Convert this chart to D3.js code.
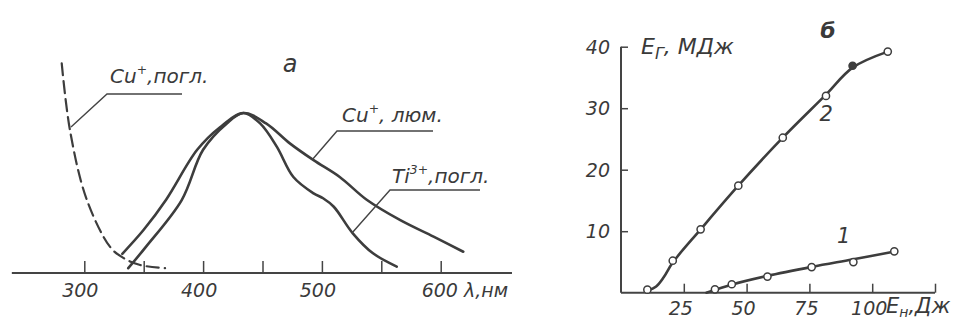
<!DOCTYPE html>
<html lang="en">
<head>
  <meta charset="UTF-8">
  <title>Spectra and energy</title>
  <style>
    body { margin: 0; padding: 0; background: #fff; }
    svg { display: block; }
    text {
      font-family: 'DejaVu Sans', sans-serif;
      font-style: italic;
      fill: #3a3a3a;
    }
    .curve { fill: none; stroke: #3d3d3d; stroke-width: 2.6px; stroke-linecap: round; }
    .dash { stroke-dasharray: 12 6; stroke-width: 2.2px; }
    .axis-line { stroke: #444; stroke-width: 2px; fill: none; }
    .leader { stroke: #444; stroke-width: 1.4px; fill: none; }
    .tick line { stroke: #444; stroke-width: 1.5px; }
  </style>
</head>
<body>
  <svg width="964" height="323"></svg>

  <script src="https://d3js.org/d3.v7.min.js"></script>
  <script>
    // panel a: relative intensity vs wavelength (nm)
    const cuAbsLambda = [281, 288, 302, 322, 333, 347, 368];
    const cuAbsValue  = [1.31, 0.89, 0.46, 0.16, 0.094, 0.05, 0.03];

    const cuLumLambda = [332, 350, 369, 395, 414, 434, 453, 473, 493, 515, 538, 566, 594, 619];
    const cuLumValue  = [0.12, 0.27, 0.46, 0.77, 0.91, 1.0, 0.935, 0.81, 0.705, 0.60, 0.456, 0.33, 0.227, 0.133];

    const tiAbsLambda = [337, 352, 382, 400, 420, 434, 448, 462, 476, 493, 501, 510, 526, 543, 563];
    const tiAbsValue  = [0.03, 0.165, 0.456, 0.77, 0.935, 1.0, 0.935, 0.79, 0.60, 0.498, 0.467, 0.414, 0.248, 0.123, 0.04];

    const lambdaTicks = [300, 350, 400, 450, 500, 550, 600];
    const lambdaLabels = [300, 400, 500];

    // panel б: E_г (MJ) vs E_н (J)
    const pts2X = [10.5, 20.6, 31.7, 46.7, 64.4, 81.6, 92.2, 106.2];
    const pts2Y = [0.5, 5.2, 10.3, 17.4, 25.2, 32.0, 36.9, 39.2];
    const fit2X = [11, 14, 17, 20.6, 31.7, 46.7, 64.4, 81.6, 92.2, 106.2];
    const fit2Y = [0.4, 1.0, 2.5, 4.9, 10.3, 17.4, 25.2, 32.2, 36.6, 39.2];

    const pts1X = [37.4, 44.1, 58.3, 75.9, 92.5, 108.8];
    const pts1Y = [0.55, 1.37, 2.62, 4.16, 4.98, 6.72];
    const fit1X = [34, 44, 58, 76, 92, 109];
    const fit1Y = [0, 1.3, 2.7, 4.2, 5.4, 6.7];

    const enTicks = [25, 50, 75, 100, 125];
    const enLabels = [25, 50, 75, 100];
    const egTicks = [10, 20, 30, 40];

    const svg = d3.select("svg");

    // ---------- panel a ----------
    const xA = d3.scaleLinear().domain([300, 600]).range([84.3, 440.7]);
    const yA = d3.scaleLinear().domain([0, 1]).range([273, 113]);
    const gA = svg.append("g");

    gA.append("line").attr("class", "axis-line")
      .attr("x1", xA(239)).attr("x2", xA(660))
      .attr("y1", yA(0)).attr("y2", yA(0));

    gA.append("g")
      .attr("transform", `translate(0,${yA(0)})`)
      .call(d3.axisTop(xA).tickValues(lambdaTicks).tickSize(12).tickFormat(""))
      .call(g => g.select(".domain").remove());

    gA.selectAll(".lam-label")
      .data(lambdaLabels)
      .enter().append("text")
      .attr("class", "lam-label")
      .attr("x", d => xA(d) - 4)
      .attr("y", 297)
      .attr("text-anchor", "middle")
      .attr("font-size", 19)
      .text(d => d);

    gA.append("text")
      .attr("x", xA(600) - 19).attr("y", 297)
      .attr("font-size", 19)
      .text("600 λ,нм");

    const lineA = (xs, ys) => d3.line()
      .x(i => xA(xs[i])).y(i => yA(ys[i]))
      .curve(d3.curveCatmullRom)(d3.range(xs.length));

    gA.append("path").attr("class", "curve dash").attr("d", lineA(cuAbsLambda, cuAbsValue));
    gA.append("path").attr("class", "curve").attr("d", lineA(cuLumLambda, cuLumValue));
    gA.append("path").attr("class", "curve").attr("d", lineA(tiAbsLambda, tiAbsValue));

    // labels with leaders
    function label(g, x, y, base, sup, rest, size) {
      const t = g.append("text").attr("x", x).attr("y", y).attr("font-size", size);
      t.append("tspan").text(base);
      t.append("tspan").attr("dy", -9).attr("font-size", size * 0.62).text(sup);
      t.append("tspan").attr("dy", 9).text(rest);
    }

    label(gA, 110, 83, "Cu", "+", ",погл.", 20);
    gA.append("path").attr("class", "leader").attr("d", "M71,127L107,94H182");

    label(gA, 342, 122, "Cu", "+", ", люм.", 20);
    gA.append("path").attr("class", "leader").attr("d", "M312,160L337,131H433");

    label(gA, 392, 183, "Ti", "3+", ",погл.", 20);
    gA.append("path").attr("class", "leader").attr("d", "M352,233L390,190H480");

    gA.append("text").attr("x", 290).attr("y", 72)
      .attr("text-anchor", "middle").attr("font-size", 24).text("а");

    // ---------- panel б ----------
    const xB = d3.scaleLinear().domain([0, 125]).range([621, 935]);
    const yB = d3.scaleLinear().domain([0, 40]).range([292.7, 46.7]);
    const gB = svg.append("g");

    gB.append("line").attr("class", "axis-line")
      .attr("x1", xB(0)).attr("x2", xB(125))
      .attr("y1", yB(0)).attr("y2", yB(0));
    gB.append("line").attr("class", "axis-line")
      .attr("x1", xB(0)).attr("x2", xB(0))
      .attr("y1", yB(0)).attr("y2", yB(40));

    gB.append("g")
      .attr("transform", `translate(0,${yB(0)})`)
      .call(d3.axisTop(xB).tickValues(enTicks).tickSize(9).tickFormat(""))
      .call(g => g.select(".domain").remove());

    gB.append("g")
      .attr("transform", `translate(${xB(0)},0)`)
      .call(d3.axisRight(yB).tickValues(egTicks).tickSize(7).tickFormat(""))
      .call(g => g.select(".domain").remove());

    gB.selectAll(".en-label")
      .data(enLabels)
      .enter().append("text")
      .attr("x", d => xB(d) - 3)
      .attr("y", 315)
      .attr("text-anchor", "middle")
      .attr("font-size", 19)
      .text(d => d);

    gB.selectAll(".eg-label")
      .data(egTicks)
      .enter().append("text")
      .attr("x", xB(0) - 11)
      .attr("y", d => yB(d) + 7)
      .attr("text-anchor", "end")
      .attr("font-size", 19)
      .text(d => d);

    const xl = gB.append("text").attr("x", 886).attr("y", 313).attr("font-size", 21);
    xl.append("tspan").text("E");
    xl.append("tspan").attr("dy", 4).attr("font-size", 14).text("н");
    xl.append("tspan").attr("dy", -4).text(",Дж");

    const yl = gB.append("text").attr("x", 641).attr("y", 54).attr("font-size", 22);
    yl.append("tspan").text("E");
    yl.append("tspan").attr("dy", 5).attr("font-size", 16).text("Г");
    yl.append("tspan").attr("dy", -5).text(", МДж");

    gB.append("text").attr("x", 828).attr("y", 38)
      .attr("text-anchor", "middle").attr("font-size", 22)
      .attr("font-weight", "bold").text("б");

    const lineB = (xs, ys) => d3.line()
      .x(i => xB(xs[i])).y(i => yB(ys[i]))
      .curve(d3.curveCatmullRom)(d3.range(xs.length));

    gB.append("path").attr("class", "curve").attr("d", lineB(fit2X, fit2Y));
    gB.append("path").attr("class", "curve").attr("d", lineB(fit1X, fit1Y));

    gB.selectAll(".p2")
      .data(d3.range(pts2X.length))
      .enter().append("circle")
      .attr("cx", i => xB(pts2X[i])).attr("cy", i => yB(pts2Y[i]))
      .attr("r", 3.6)
      .attr("fill", i => i === 6 ? "#3d3d3d" : "#fff")
      .attr("stroke", "#3d3d3d").attr("stroke-width", 1.5);

    gB.selectAll(".p1")
      .data(d3.range(pts1X.length))
      .enter().append("circle")
      .attr("cx", i => xB(pts1X[i])).attr("cy", i => yB(pts1Y[i]))
      .attr("r", 3.6)
      .attr("fill", "#fff")
      .attr("stroke", "#3d3d3d").attr("stroke-width", 1.5);

    gB.append("text").attr("x", xB(86)).attr("y", yB(8.1)).attr("font-size", 21).text("1");
    gB.append("text").attr("x", xB(79)).attr("y", yB(28.0)).attr("font-size", 21).text("2");
  </script>
</body>
</html>
